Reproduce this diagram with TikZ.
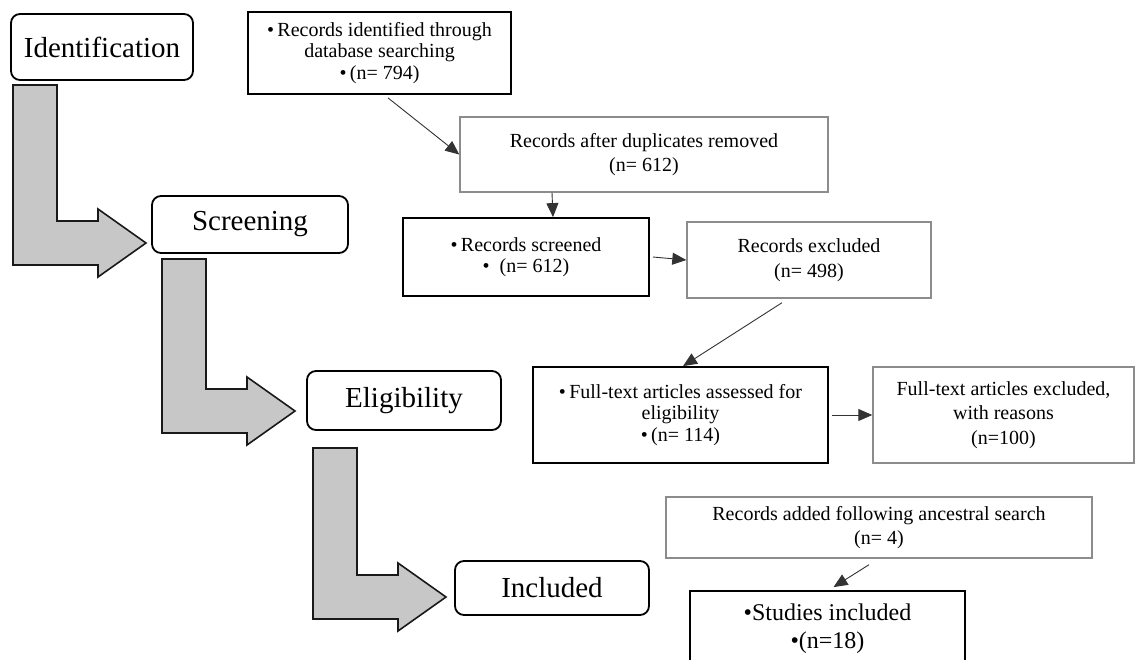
\documentclass[tikz,border=0pt]{standalone}
\usepackage{fontspec}
\setmainfont{Liberation Serif}
\usetikzlibrary{arrows.meta}

\begin{document}
\begin{tikzpicture}[x=1pt,y=-1pt]
        \tikzset{
            stage/.style={draw=black,line width=1.8pt,rounded corners=9pt,inner sep=0pt,font=\fontsize{29}{34}\selectfont},
            mainbox/.style={draw=black,line width=1.8pt,align=center,inner sep=0pt,font=\fontsize{20}{21.5}\selectfont},
            sidebox/.style={draw=black!45,line width=1.4pt,align=center,inner sep=0pt,font=\fontsize{20}{24.5}\selectfont},
            flow/.style={-{Triangle[length=14pt,width=12pt]},line width=0.9pt,draw=black!80},
            stagearrow/.style={draw=black!90,line width=1.6pt,fill=black!22},
        }
        \useasboundingbox (0,0) rectangle (1135,659);
        \clip (0,0) rectangle (1135,659);
        \fill[white] (0,0) rectangle (1135,659);

        % grey bent arrows between the stages
        \foreach \x/\ya/\yb in {13/85/221,162/259/389,313/448/575}
            \draw[stagearrow] (\x,\ya) -- (\x+44,\ya) -- (\x+44,\yb) -- (\x+85,\yb) -- (\x+85,\yb-12)
                -- (\x+133,\yb+22) -- (\x+85,\yb+56) -- (\x+85,\yb+44) -- (\x,\yb+44) -- cycle;

        \node[stage,minimum width=182pt,minimum height=66pt] (ident) at (102,47) {Identification};
        \node[stage,minimum width=196pt,minimum height=57pt] (screen) at (250,224.5) {Screening};
        \node[stage,minimum width=194pt,minimum height=59pt] (elig) at (404,400.5) {Eligibility};
        \node[stage,minimum width=194pt,minimum height=54pt] (incl) at (552,588) {Included};

        \node[mainbox,minimum width=263pt,minimum height=82pt] (found) at (379.5,53)
            {\textbullet\,Records identified through\\database searching\\\textbullet\,(n= 794)};
        \node[sidebox,minimum width=368pt,minimum height=75pt] (dedup) at (644,154.5)
            {Records after duplicates removed\\(n= 612)};
        \node[mainbox,minimum width=246pt,minimum height=78pt] (screened) at (526,257)
            {\textbullet\,Records screened\\\textbullet\ \ (n= 612)};
        \node[sidebox,minimum width=244pt,minimum height=76pt] (excl) at (809,260)
            {Records excluded\\(n= 498)};
        \node[mainbox,minimum width=295pt,minimum height=96pt] (assess) at (680.5,415)
            {\textbullet\,Full-text articles assessed for\\eligibility\\\textbullet\,(n= 114)};
        \node[sidebox,minimum width=261pt,minimum height=96pt] (ftexcl) at (1003.5,415)
            {Full-text articles excluded,\\with reasons\\(n=100)};
        \node[sidebox,minimum width=426pt,minimum height=61pt] (added) at (879,527.5)
            {Records added following ancestral search\\(n= 4)};
        \node[mainbox,minimum width=275pt,minimum height=76pt,font=\fontsize{24}{28}\selectfont] (studies) at (827.5,629)
            {\textbullet Studies included\\\textbullet(n=18)};

        \draw[flow] ([xshift=8.5pt,yshift=-3pt]found.south) -- (dedup.west);
        \draw[flow] ([xshift=-92pt]dedup.south) -- ([xshift=27pt]screened.north);
        \draw[flow] ([xshift=3pt]screened.east) -- (excl.west);
        \draw[flow] ([xshift=-27pt,yshift=-4pt]excl.south) -- ([xshift=2.5pt]assess.north);
        \draw[flow] ([xshift=3pt]assess.east) -- (ftexcl.west);
        \draw[flow] ([xshift=-10pt,yshift=-6pt]added.south) -- ([xshift=6pt,yshift=3pt]studies.north);
\end{tikzpicture}
\end{document}
